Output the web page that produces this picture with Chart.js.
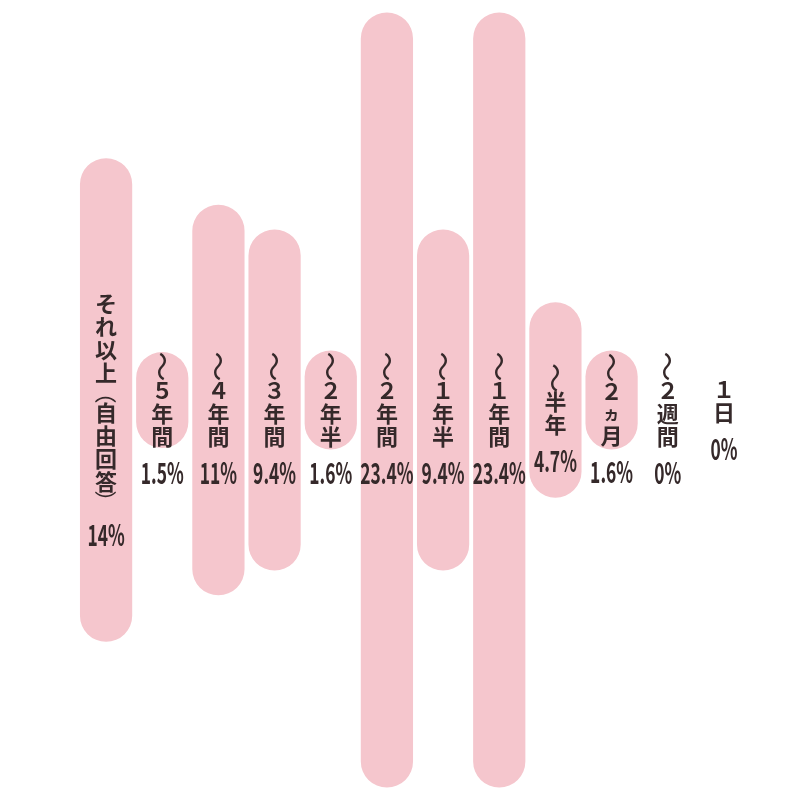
<!DOCTYPE html>
<html>
<head>
<meta charset="utf-8">
<script src="https://cdn.jsdelivr.net/npm/chart.js@4"></script>
<style>
    body { margin: 0; background: #fff; }
    #wrap { width: 800px; height: 800px; }
</style>
</head>
<body>
<div id="wrap"><canvas id="chart" width="800" height="800"></canvas></div>
<script>
// 期間ラベル（縦書き）
const categories = ['それ以上（自由回答）', '～５年間', '～４年間', '～３年間', '～２年半', '～２年間', '～１年半', '～１年間', '～半年', '～２ヵ月', '～２週間', '１日'];
// 割合（%）
const percents = [14, 1.5, 11, 9.4, 1.6, 23.4, 9.4, 23.4, 4.7, 1.6, 0, 0];
const percentLabels = ['14%', '1.5%', '11%', '9.4%', '1.6%', '23.4%', '9.4%', '23.4%', '4.7%', '1.6%', '0%', '0%'];

// 棒の丸い端の分（%単位）
const capPad = 1.6;

const textColor = '#35292a';
const barColor = '#f5c6cd';

// 中心から上下に伸びる棒
const ranges = percents.map(v => v > 0 ? [-(v + capPad), v + capPad] : null);

// 縦書きラベルを描く
const verticalLabels = {
    id: 'verticalLabels',
    afterDatasetsDraw(chart) {
        const ctx = chart.ctx;
        const xScale = chart.scales.x;
        const centerY = 418;
        ctx.save();
        ctx.fillStyle = textColor;
        ctx.textAlign = 'center';
        ctx.textBaseline = 'middle';
        categories.forEach((label, i) => {
            const x = xScale.getPixelForValue(i);
            const chars = Array.from(label);
            const rows = chars.map(c => {
                if (c === '～') return 25;
                if (c === '（' || c === '）') return 17;
                if (c === 'ヵ') return 21;
                return 23;
            });
            const gap = 13;
            const pctH = 21;
            const total = rows.reduce((s, h) => s + h, 0) + gap + pctH;
            let y = centerY - total / 2;
            chars.forEach((c, k) => {
                const cy = y + rows[k] / 2;
                ctx.save();
                ctx.translate(x, cy);
                if (c === '～' || c === '（' || c === '）') {
                    ctx.rotate(Math.PI / 2);
                }
                if (c === 'ヵ') {
                    ctx.font = '600 17px "Noto Sans CJK JP"';
                } else if (c === '～') {
                    ctx.font = '400 30px "Noto Sans CJK JP"';
                } else if (c === '（' || c === '）') {
                    ctx.font = '400 22px "Noto Sans CJK JP"';
                } else {
                    ctx.font = '600 22px "Noto Sans CJK JP"';
                }
                ctx.fillText(c, 0, 0);
                ctx.restore();
                y += rows[k];
            });
            y += gap;
            // 割合（縦長の数字）
            ctx.save();
            ctx.translate(x, y + pctH / 2 + 1);
            ctx.scale(0.6, 1);
            ctx.font = '600 29px "Noto Sans CJK JP"';
            ctx.fillText(percentLabels[i], 0, 0);
            ctx.restore();
        });
        ctx.restore();
    }
};

new Chart(document.getElementById('chart').getContext('2d'), {
    type: 'bar',
    data: {
        labels: categories,
        datasets: [{
            data: ranges,
            backgroundColor: barColor,
            borderWidth: 0,
            borderRadius: 100,
            borderSkipped: false,
            barPercentage: 0.93,
            categoryPercentage: 1
        }]
    },
    options: {
        responsive: false,
        animation: false,
        layout: { padding: { left: 78, right: 48, top: 0, bottom: 0 } },
        scales: {
            x: { display: false },
            y: { display: false, min: -25.8, max: 25.8 }
        },
        plugins: {
            legend: { display: false },
            tooltip: { enabled: false }
        }
    },
    plugins: [verticalLabels]
});
</script>
</body>
</html>
